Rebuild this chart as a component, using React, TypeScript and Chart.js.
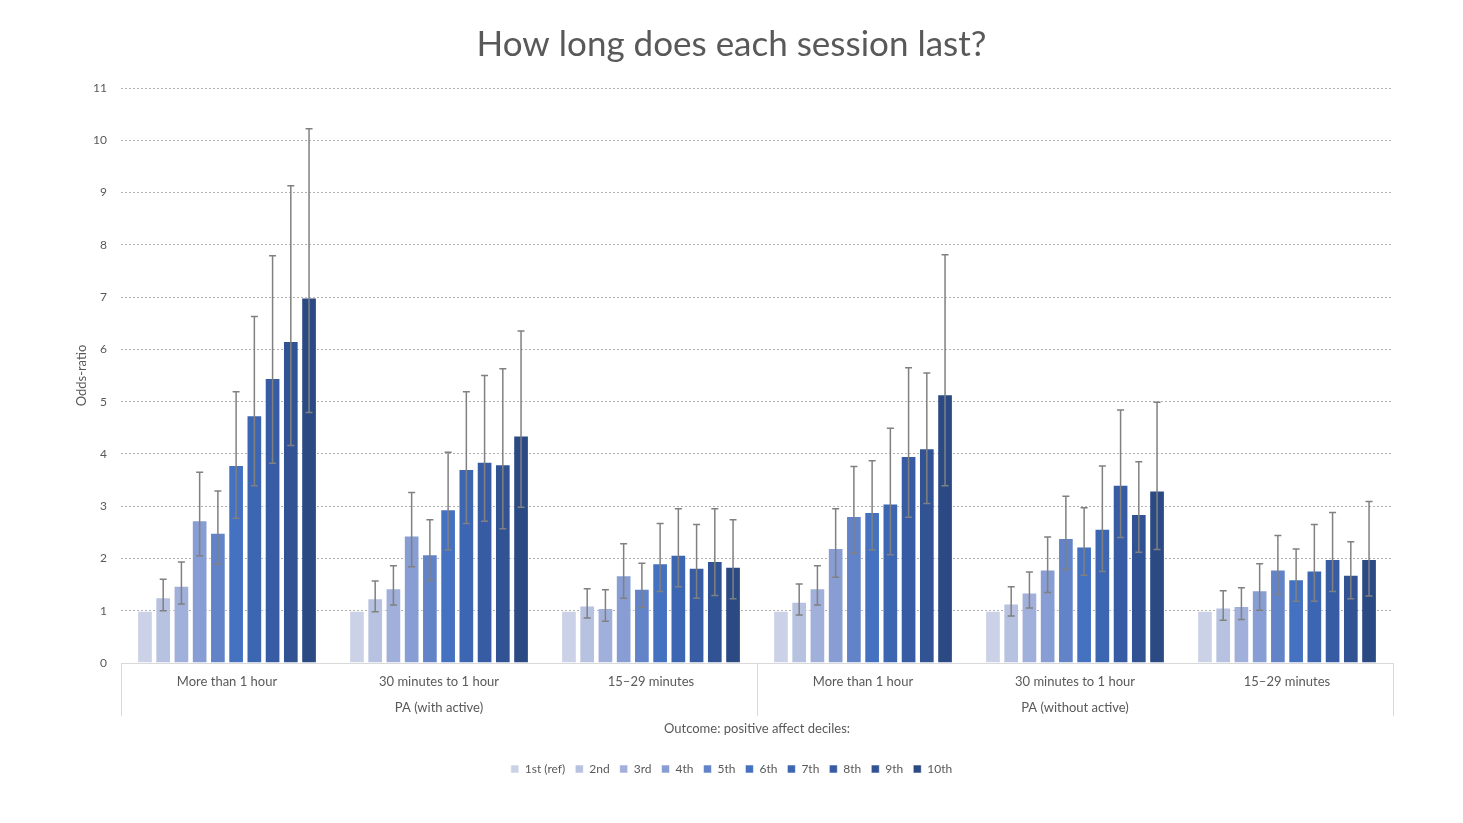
import React, { useEffect, useRef } from "react";
import { Chart, registerables } from "chart.js";

Chart.register(...registerables);

// ---- Data ----
const deciles = ["1st (ref)", "2nd", "3rd", "4th", "5th", "6th", "7th", "8th", "9th", "10th"];
const outcomeLabels = [
  "More than 1 hour",
  "30 minutes to 1 hour",
  "15–29 minutes",
  "More than 1 hour",
  "30 minutes to 1 hour",
  "15–29 minutes",
];
const groupLabels = ["PA (with active)", "PA (without active)"];
const decileColors = [
  "#CBD2E7", "#B7C2E1", "#A1B0DA", "#889DD3", "#6383C9",
  "#4471C0", "#3D66B2", "#385CA4", "#315394", "#2B4A84",
];

// PA (with active)
const orWithMore = [1, 1.26, 1.48, 2.73, 2.49, 3.79, 4.74, 5.45, 6.16, 6.99];
const loWithMore = [null, 1.0, 1.13, 2.05, 1.89, 2.77, 3.39, 3.82, 4.16, 4.79];
const hiWithMore = [null, 1.6, 1.93, 3.65, 3.29, 5.19, 6.63, 7.79, 9.13, 10.22];

const orWith30 = [1, 1.24, 1.43, 2.44, 2.08, 2.94, 3.71, 3.85, 3.8, 4.35];
const loWith30 = [null, 0.98, 1.11, 1.84, 1.58, 2.16, 2.67, 2.71, 2.57, 2.98];
const hiWith30 = [null, 1.57, 1.86, 3.26, 2.74, 4.03, 5.19, 5.5, 5.63, 6.35];

const orWith15 = [1, 1.1, 1.05, 1.68, 1.42, 1.91, 2.07, 1.82, 1.95, 1.84];
const loWith15 = [null, 0.86, 0.8, 1.24, 1.06, 1.37, 1.46, 1.24, 1.29, 1.23];
const hiWith15 = [null, 1.42, 1.4, 2.28, 1.91, 2.67, 2.95, 2.65, 2.95, 2.74];

// PA (without active)
const orWithoutMore = [1, 1.17, 1.43, 2.2, 2.81, 2.89, 3.05, 3.96, 4.11, 5.14];
const loWithoutMore = [null, 0.92, 1.11, 1.64, 2.1, 2.16, 2.07, 2.79, 3.05, 3.39];
const hiWithoutMore = [null, 1.51, 1.86, 2.95, 3.76, 3.87, 4.49, 5.65, 5.55, 7.81];

const orWithout30 = [1, 1.14, 1.35, 1.79, 2.39, 2.23, 2.57, 3.41, 2.85, 3.3];
const loWithout30 = [null, 0.9, 1.05, 1.35, 1.79, 1.68, 1.75, 2.4, 2.12, 2.17];
const hiWithout30 = [null, 1.46, 1.74, 2.41, 3.19, 2.97, 3.77, 4.84, 3.85, 4.99];

const orWithout15 = [1, 1.06, 1.09, 1.39, 1.79, 1.6, 1.77, 1.99, 1.69, 1.99];
const loWithout15 = [null, 0.82, 0.83, 1.01, 1.31, 1.18, 1.18, 1.37, 1.23, 1.28];
const hiWithout15 = [null, 1.38, 1.44, 1.9, 2.44, 2.18, 2.65, 2.88, 2.32, 3.09];

const orGroups = [orWithMore, orWith30, orWith15, orWithoutMore, orWithout30, orWithout15];
const loGroups = [loWithMore, loWith30, loWith15, loWithoutMore, loWithout30, loWithout15];
const hiGroups = [hiWithMore, hiWith30, hiWith15, hiWithoutMore, hiWithout30, hiWithout15];

const FONT = "Lato, 'Open Sans', 'DejaVu Sans', sans-serif";
const TEXT = "#595959";

const errorBarsPlugin = {
  id: "errorBars",
  afterDatasetsDraw(chart: any) {
    const { ctx } = chart;
    const y = chart.scales.y;
    ctx.save();
    ctx.strokeStyle = "#808080";
    ctx.lineWidth = 1.5;
    chart.data.datasets.forEach((ds: any, i: number) => {
      const meta = chart.getDatasetMeta(i);
      meta.data.forEach((bar: any, j: number) => {
        const lo = ds.errLow[j];
        const hi = ds.errHigh[j];
        if (lo == null || hi == null) return;
        const x = bar.x;
        const y1 = y.getPixelForValue(lo);
        const y2 = y.getPixelForValue(hi);
        const c = 3.5;
        ctx.beginPath();
        ctx.moveTo(x, y1);
        ctx.lineTo(x, y2);
        ctx.moveTo(x - c, y1);
        ctx.lineTo(x + c, y1);
        ctx.moveTo(x - c, y2);
        ctx.lineTo(x + c, y2);
        ctx.stroke();
      });
    });
    ctx.restore();
  },
};

const axisFramePlugin = {
  id: "axisFrame",
  afterDraw(chart: any) {
    const { ctx, chartArea } = chart;
    const x = chart.scales.x;
    const b = chartArea.bottom;
    const mid = (x.getPixelForValue(2) + x.getPixelForValue(3)) / 2;
    const xs = [x.left, mid, x.right];
    ctx.save();
    ctx.strokeStyle = "#D9D9D9";
    ctx.lineWidth = 1;
    xs.forEach((px: number) => {
      ctx.beginPath();
      ctx.moveTo(Math.round(px) + 0.5, b);
      ctx.lineTo(Math.round(px) + 0.5, b + 53);
      ctx.stroke();
    });
    ctx.restore();
  },
};

export default function App() {
  const canvasRef = useRef<HTMLCanvasElement | null>(null);

  useEffect(() => {
    if (!canvasRef.current) return;
    const datasets = deciles.map((label, d) => ({
      label,
      data: orGroups.map((g) => g[d]),
      errLow: loGroups.map((g) => g[d]),
      errHigh: hiGroups.map((g) => g[d]),
      backgroundColor: decileColors[d],
      borderColor: "rgba(255,255,255,0.55)",
      borderWidth: 1,
      barPercentage: 0.86,
      categoryPercentage: 0.86,
      xAxisID: "x",
      yAxisID: "y",
    }));

    const chart = new Chart(canvasRef.current, {
      type: "bar",
      data: { labels: outcomeLabels, datasets: datasets as any },
      plugins: [errorBarsPlugin, axisFramePlugin],
      options: {
        animation: false,
        responsive: true,
        maintainAspectRatio: false,
        layout: { padding: { left: 0, right: 0, top: 0, bottom: 38 } },
        font: { family: FONT },
        plugins: {
          title: {
            display: true,
            text: "How long does each session last?",
            color: TEXT,
            font: { family: FONT, size: 35, weight: "normal" },
            padding: { top: 24, bottom: 22 },
          },
          legend: {
            position: "bottom",
            labels: {
              boxWidth: 8,
              boxHeight: 8,
              padding: 10,
              color: TEXT,
              font: { family: FONT, size: 12 },
            },
          },
          tooltip: { enabled: false },
        },
        scales: {
          x: {
            type: "category",
            position: "bottom",
            weight: 0,
            offset: true,
            grid: { display: false, drawTicks: false },
            border: { display: true, color: "#D9D9D9", width: 1 },
            ticks: {
              color: TEXT,
              font: { family: FONT, size: 13 },
              padding: 11,
              maxRotation: 0,
              autoSkip: false,
            },
            afterFit: (s: any) => {
              s.height = 30;
            },
          },
          y: {
            min: 0,
            max: 11,
            ticks: {
              stepSize: 1,
              color: TEXT,
              font: { family: FONT, size: 12 },
              padding: 14,
            },
            grid: {
              drawTicks: false,
              color: (c: any) => (c.tick && c.tick.value === 0 ? "rgba(0,0,0,0)" : "#B0B0B0"),
              lineWidth: 1,
            },
            border: { display: false, dash: [2, 2] },
            title: {
              display: true,
              text: "Odds-ratio",
              color: TEXT,
              font: { family: FONT, size: 13 },
              padding: { top: 74, bottom: 0 },
            },
            afterFit: (s: any) => {
              s.width = 121;
            },
          },
          yRight: {
            type: "linear",
            position: "right",
            display: true,
            ticks: { display: false },
            grid: { display: false, drawTicks: false },
            border: { display: false },
            afterFit: (s: any) => {
              s.width = 70;
            },
          },
          x2: {
            type: "category",
            labels: groupLabels,
            position: "bottom",
            weight: 1,
            offset: true,
            grid: { display: false, drawTicks: false },
            border: { display: false },
            ticks: {
              color: TEXT,
              font: { family: FONT, size: 13 },
              padding: 7,
              maxRotation: 0,
              autoSkip: false,
            },
            title: {
              display: true,
              text: "Outcome: positive affect deciles:",
              color: TEXT,
              font: { family: FONT, size: 13 },
              padding: { top: 0, bottom: 16 },
            },
            afterFit: (s: any) => {
              s.height = 60;
            },
          },
        },
      } as any,
    });
    return () => chart.destroy();
  }, []);

  return (
    <div style={{ position: "fixed", left: 0, top: 0, width: 1463, height: 823, background: "#fff" }}>
      <canvas ref={canvasRef} />
    </div>
  );
}
